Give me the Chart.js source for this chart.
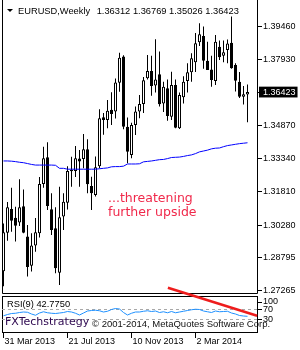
<!DOCTYPE html>
<html><head><meta charset="utf-8">
<script src="https://cdn.jsdelivr.net/npm/chart.js@4.4.1/dist/chart.umd.min.js"></script>
<style>
html,body{margin:0;padding:0;background:#fff;}
#wrap{position:relative;width:300px;height:350px;overflow:hidden;background:#fff;}
canvas{position:absolute;left:0;top:0;}
.t{position:absolute;white-space:nowrap;line-height:1;}
</style></head><body>
<div id="wrap">
<canvas id="c" width="300" height="350"></canvas>
<div style="position:absolute;left:7px;top:9px;width:0;height:0;border-left:3px solid transparent;border-right:3px solid transparent;border-top:3px solid #000;"></div>
<div class="t" style="left:18px;top:7.1px;font-size:9.3px;font-family:'Liberation Sans',Arial,sans-serif;color:#000;">EURUSD,Weekly</div>
<div class="t" style="left:96.7px;top:7.1px;font-size:9.3px;font-family:'Liberation Sans',Arial,sans-serif;color:#000;">1.36312 1.36769 1.35026 1.36423</div>
<div class="t" style="left:108px;top:191.3px;font-size:12.5px;line-height:13.4px;font-family:'DejaVu Sans',sans-serif;color:#f0284a;">...threatening<br>further upside</div>
<div class="t" style="left:7px;top:300.1px;font-size:9.3px;font-family:'Liberation Sans',Arial,sans-serif;color:#000;">RSI(9) 42.7750</div>
<div class="t" style="left:5px;top:315.7px;font-size:11px;font-family:'DejaVu Sans',sans-serif;color:#2e0850;">FXTechstrategy</div>
<div class="t" style="left:92px;top:319.3px;font-size:9.5px;font-family:'Liberation Sans',Arial,sans-serif;color:#111;">© 2001-2014, MetaQuotes Software Corp.</div>
</div>
<script>
const weeks = ["31 Mar 2013","7 Apr 2013","14 Apr 2013","21 Apr 2013","28 Apr 2013","5 May 2013","12 May 2013","19 May 2013","26 May 2013","2 Jun 2013",
"9 Jun 2013","16 Jun 2013","23 Jun 2013","30 Jun 2013","7 Jul 2013","14 Jul 2013","21 Jul 2013","28 Jul 2013","4 Aug 2013","11 Aug 2013",
"18 Aug 2013","25 Aug 2013","1 Sep 2013","8 Sep 2013","15 Sep 2013","22 Sep 2013","29 Sep 2013","6 Oct 2013","13 Oct 2013","20 Oct 2013",
"27 Oct 2013","3 Nov 2013","10 Nov 2013","17 Nov 2013","24 Nov 2013","1 Dec 2013","8 Dec 2013","15 Dec 2013","22 Dec 2013","29 Dec 2013",
"5 Jan 2014","12 Jan 2014","19 Jan 2014","26 Jan 2014","2 Feb 2014","9 Feb 2014","16 Feb 2014","23 Feb 2014","2 Mar 2014","9 Mar 2014",
"16 Mar 2014","23 Mar 2014","30 Mar 2014","6 Apr 2014","13 Apr 2014","20 Apr 2014","27 Apr 2014","4 May 2014","11 May 2014","18 May 2014",
"25 May 2014","1 Jun 2014"];

const open = [1.2815,1.2992,1.3102,1.3062,1.3040,1.3115,1.2975,1.2840,1.2933,1.2990,
1.3218,1.3341,1.3101,1.3013,1.2808,1.3067,1.3131,1.3282,1.3278,1.3335,
1.3333,1.3378,1.3208,1.3167,1.3300,1.3526,1.3513,1.3560,1.3552,1.3685,
1.3806,1.3482,1.3351,1.3490,1.3552,1.3587,1.3706,1.3740,1.3672,1.3725,
1.3590,1.3660,1.3528,1.3675,1.3475,1.3618,1.3693,1.3734,1.3780,1.3872,
1.3901,1.3787,1.3747,1.3693,1.3852,1.3810,1.3836,1.3870,1.3767,1.3690,
1.3621,1.36312];
const high = [1.3035,1.3135,1.3200,1.3112,1.3240,1.3192,1.3028,1.2990,1.3060,1.3250,
1.3390,1.3410,1.3175,1.3110,1.3205,1.3175,1.3300,1.3344,1.3393,1.3375,
1.3448,1.3424,1.3251,1.3345,1.3563,1.3545,1.3606,1.3641,1.3705,1.3824,
1.3812,1.3525,1.3500,1.3575,1.3629,1.3712,1.3813,1.3810,1.3886,1.3830,
1.3690,1.3700,1.3736,1.3700,1.3640,1.3715,1.3775,1.3821,1.3915,1.3960,
1.3945,1.3875,1.3810,1.3906,1.3880,1.3880,1.3885,1.3991,1.3775,1.3735,
1.3670,1.36769];
const low = [1.2745,1.2955,1.2997,1.2952,1.3024,1.2990,1.2790,1.2813,1.2905,1.2970,
1.3200,1.3098,1.2982,1.2805,1.2751,1.3005,1.3100,1.3205,1.3250,1.3205,
1.3290,1.3175,1.3097,1.3160,1.3290,1.3445,1.3475,1.3490,1.3520,1.3644,
1.3470,1.3313,1.3336,1.3444,1.3521,1.3545,1.3700,1.3625,1.3640,1.3575,
1.3550,1.3510,1.3513,1.3475,1.3472,1.3590,1.3640,1.3690,1.3735,1.3855,
1.3750,1.3750,1.3667,1.3675,1.3790,1.3780,1.3775,1.3750,1.3645,1.3615,
1.3585,1.35026];
const close = [1.2995,1.3110,1.3048,1.3025,1.3110,1.2992,1.2834,1.2933,1.2995,1.3218,
1.3336,1.3116,1.3005,1.2828,1.3064,1.3136,1.3278,1.3276,1.3336,1.3322,
1.3378,1.3216,1.3175,1.3295,1.3521,1.3513,1.3556,1.3541,1.3686,1.3801,
1.3482,1.3367,1.3490,1.3552,1.3587,1.3697,1.3740,1.3670,1.3700,1.3586,
1.3667,1.3532,1.3675,1.3477,1.3629,1.3690,1.3734,1.3798,1.3868,1.3909,
1.3787,1.3744,1.3698,1.3875,1.3803,1.3826,1.3867,1.3752,1.3695,1.3621,
1.3632,1.36423];
const movingAverage = [1.3324,1.3324,1.3323,1.3321,1.3318,1.3316,1.3312,1.3308,1.3305,1.3305,
1.3305,1.3305,1.3305,1.3304,1.3290,1.3290,1.3286,1.3286,1.3286,1.3286,
1.3286,1.3286,1.3286,1.3286,1.3288,1.3290,1.3292,1.3297,1.3298,1.3298,
1.3300,1.3310,1.3310,1.3310,1.3311,1.3320,1.3322,1.3324,1.3327,1.3330,
1.3331,1.3335,1.3340,1.3341,1.3342,1.3345,1.3349,1.3352,1.3358,1.3366,
1.3370,1.3374,1.3380,1.3383,1.3384,1.3390,1.3395,1.3398,1.3401,1.3404,
1.3406,1.3408];
const rsi = [45,50,54,55,58,60,59,52,47,56,
61,57,55,54,56,58,62,60,55,48,
56,64,66,67,65,60,63,70,74,72,
58,48,55,60,60,63,65,62,64,58,
61,57,62,57,60,63,66,69,71,70,
64,61,58,64,61,62,63,56,52,46,
44,42.775];
const priceTicks = [1.39460,1.37930,1.36423,1.34870,1.33340,1.31810,1.30280,1.28795,1.27265];
const currentPrice = 1.36423;
const rsiTicks = [100,70,30];
const rsiLevels = [70,30];
const dateTickIdx = [0,16,32,48];
const trendLine = [{x:41.1,y:157},{x:63.4,y:45}];

const X_MIN = -0.375, X_MAX = 63.625;
const Y_MIN = 1.27095, Y_MAX = 1.40675;
const RSI_MIN = -24, RSI_MAX = 132;

const framePlugin = {
  id:'frames',
  beforeDatasetsDraw(chart){
    const ctx = chart.ctx, a = chart.chartArea;
    const m = chart.scales.y, r = chart.scales.rsi;
    const L = a.left + 0.5, R = a.right - 0.5;
    ctx.save();
    ctx.strokeStyle = '#000'; ctx.lineWidth = 1;
    ctx.beginPath();
    ctx.moveTo(L, m.top); ctx.lineTo(L, m.bottom - 0.5); ctx.lineTo(R, m.bottom - 0.5); ctx.lineTo(R, m.top);
    ctx.stroke();
    ctx.strokeRect(L, r.top + 2.5, R - L, r.bottom - r.top - 3);
    ctx.restore();
  }
};

const font9 = {family:"'Liberation Sans', Arial, sans-serif", size:9};

new Chart(document.getElementById('c'), {
  type:'bar',
  data:{
    datasets:[
      {type:'line', label:'trend', data: trendLine, yAxisID:'rsi', borderColor:'#ee1c1c', borderWidth:2.5, pointRadius:0, tension:0, order:0, clip:false},
      {type:'line', label:'MA', data: movingAverage.map((v,i)=>({x:i,y:v})), yAxisID:'y', borderColor:'#0000ff', borderWidth:1, pointRadius:0, tension:0, order:1},
      {type:'line', label:'RSI(9)', data: rsi.map((v,i)=>({x:i,y:v})), yAxisID:'rsi', borderColor:'#1e90ff', borderWidth:1, pointRadius:0, tension:0, order:1},
      ...rsiLevels.map(l=>({type:'line', label:'level '+l, data:[{x:X_MIN,y:l},{x:X_MAX,y:l}], yAxisID:'rsi', borderColor:'#a8a8a8', borderWidth:1, borderDash:[3,3], pointRadius:0, order:2})),
      {type:'bar', label:'body', data: open.map((o,i)=>({x:i,y:[o,close[i]]})), yAxisID:'y',
        backgroundColor: open.map((o,i)=> close[i]>=o ? '#ffffff' : '#000000'),
        borderColor:'#000', borderWidth:1, borderSkipped:false, barThickness:3, grouped:false, minBarLength:1, inflateAmount:0, order:4},
      {type:'bar', label:'wick', data: low.map((l,i)=>({x:i,y:[l,high[i]]})), yAxisID:'y',
        backgroundColor:'#000', borderWidth:0, barThickness:1, grouped:false, inflateAmount:0, order:5}
    ]
  },
  options:{
    responsive:false, animation:false, devicePixelRatio:1,
    layout:{padding:{left:2,right:0,top:0,bottom:0}},
    plugins:{legend:{display:false}, tooltip:{enabled:false}, title:{display:false}},
    scales:{
      x:{type:'linear', min:X_MIN, max:X_MAX, offset:false,
        grid:{display:true, offset:false, drawOnChartArea:false, drawTicks:true, tickLength:5, color:'#000'},
        border:{display:false},
        ticks:{autoSkip:false, maxRotation:0, align:'start', padding:-1.5, labelOffset:1, font:font9, color:'#000',
          callback:(v)=> weeks[v] !== undefined ? weeks[v] : ''},
        afterBuildTicks:(s)=>{ s.ticks = dateTickIdx.map(v=>({value:v})); },
        afterFit:(s)=>{ s.height = 17; s.paddingLeft = 0; s.paddingRight = 0; }
      },
      y:{type:'linear', axis:'y', position:'right', stack:'pane', stackWeight:294, min:Y_MIN, max:Y_MAX, beginAtZero:false,
        grid:{display:true, drawOnChartArea:false, drawTicks:true, tickLength:4, color:'#000'},
        border:{display:false},
        ticks:{autoSkip:false, padding:1, font:font9,
          color:(c)=> (c.tick && c.tick.value===currentPrice) ? '#fff' : '#000',
          showLabelBackdrop:(c)=> !!(c.tick && c.tick.value===currentPrice),
          backdropColor:'#000', backdropPadding:{left:4,right:2,top:0,bottom:0},
          callback:(v)=> Number(v).toFixed(5)},
        afterBuildTicks:(s)=>{ s.ticks = priceTicks.map(v=>({value:v})); },
        afterFit:(s)=>{ s.width = 42; s.paddingTop = 0; s.paddingBottom = 0; }
      },
      rsi:{type:'linear', axis:'y', position:'right', stack:'pane', stackWeight:39, min:RSI_MIN, max:RSI_MAX, beginAtZero:false,
        grid:{display:true, drawOnChartArea:false, drawTicks:true, tickLength:4, color:'#000'},
        border:{display:false},
        ticks:{autoSkip:false, padding:1, font:font9, color:'#000', callback:(v)=> String(v)},
        afterBuildTicks:(s)=>{ s.ticks = rsiTicks.map(v=>({value:v})); },
        afterFit:(s)=>{ s.width = 42; s.paddingTop = 0; s.paddingBottom = 0; }
      }
    }
  },
  plugins:[framePlugin]
});
</script>
</body></html>
